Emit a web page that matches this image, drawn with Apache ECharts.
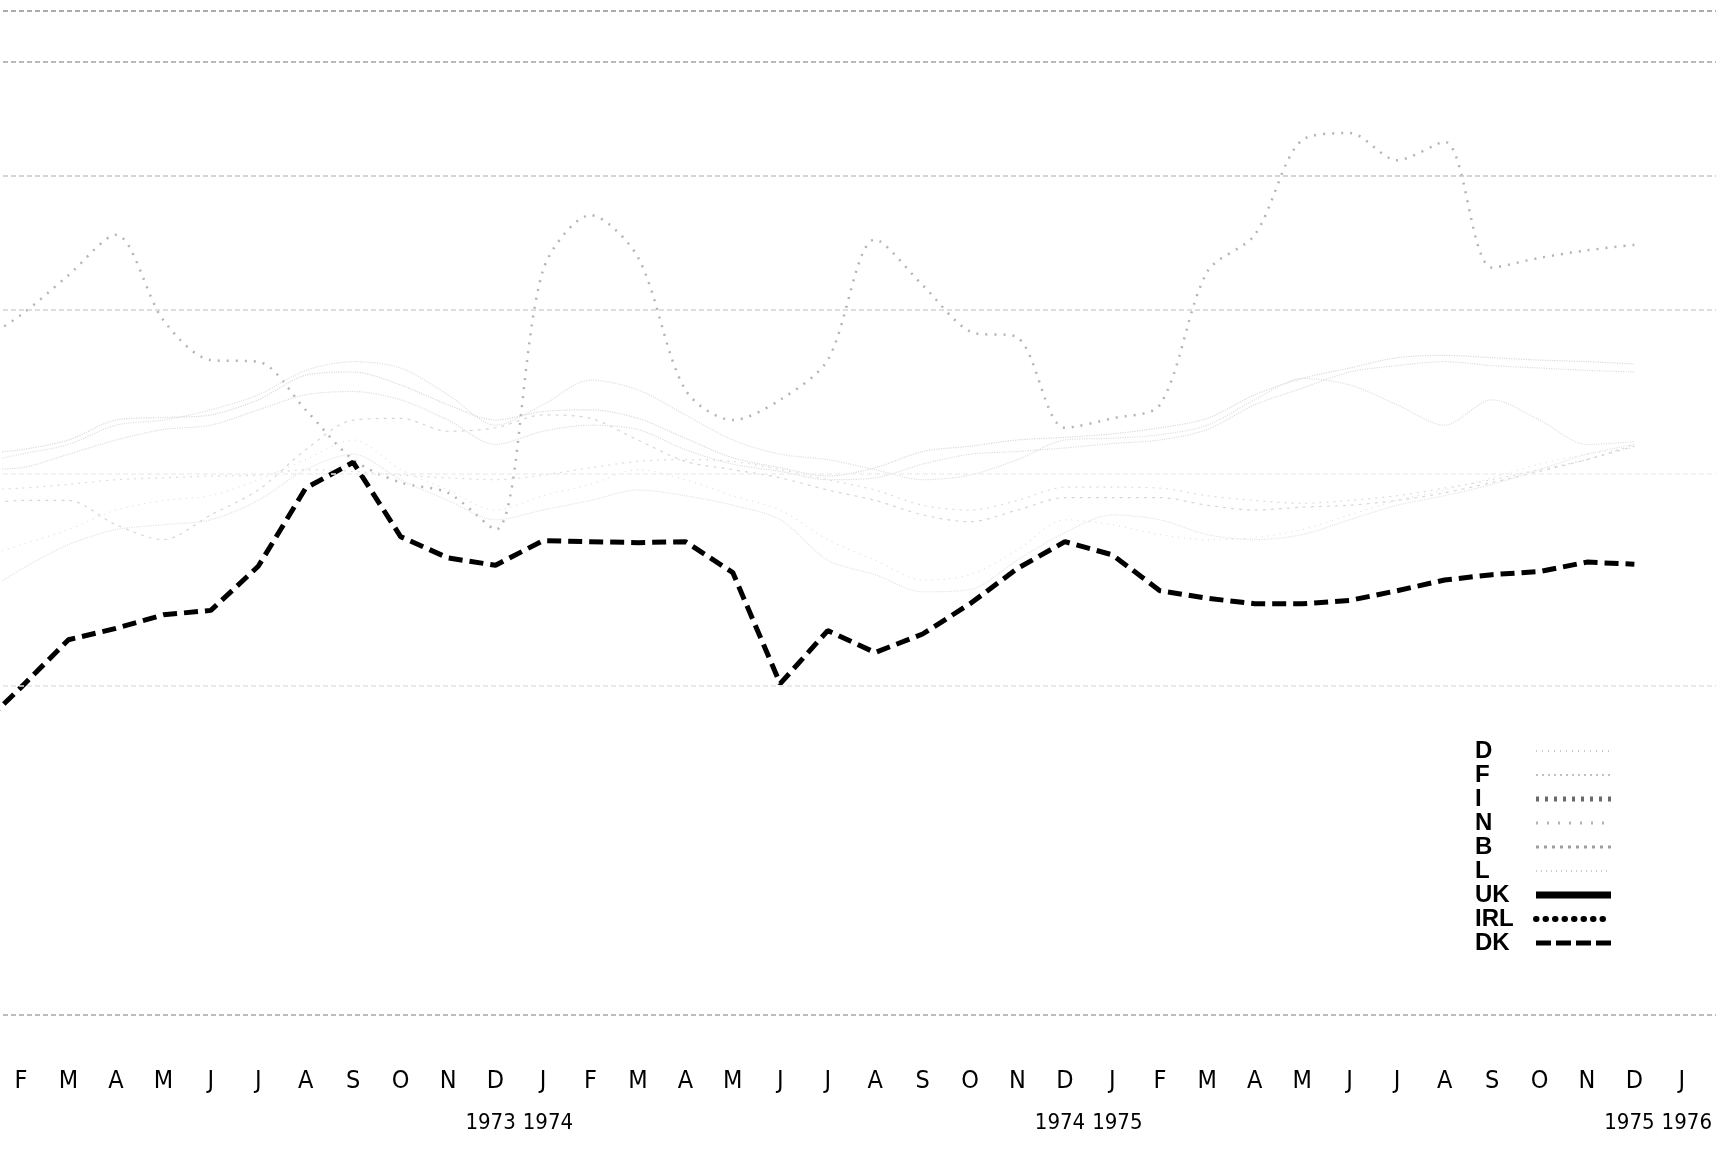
<!DOCTYPE html>
<html>
<head>
<meta charset="utf-8">
<title>DK</title>
<script src="https://cdn.jsdelivr.net/npm/echarts@6/dist/echarts.min.js"></script>
<style>
  html, body { margin: 0; padding: 0; background: #fff; }
  #chart { width: 1721px; height: 1154px; }
</style>
</head>
<body>
<div id="chart"></div>
<script>
// months from Jan 1973 (index 0) to Jan 1976 (index 36)
const months = ['J', 'F', 'M', 'A', 'M', 'J', 'J', 'A', 'S', 'O', 'N', 'D',
  'J', 'F', 'M', 'A', 'M', 'J', 'J', 'A', 'S', 'O', 'N', 'D',
  'J', 'F', 'M', 'A', 'M', 'J', 'J', 'A', 'S', 'O', 'N', 'D', 'J'];
// year pairs sit between December and January
const yearPairs = [['1973', '1974'], ['1974', '1975'], ['1975', '1976']];
const yearTicks = [11.5, 23.5, 35.5];

// log scale, values (Jan 1973 .. Dec 1975)
const dD = [8.22, 8.27, 8.38, 8.61, 8.64, 8.67, 8.85, 9.15, 9.19, 9.03, 8.79, 8.61,
  8.71, 8.73, 8.63, 8.40, 8.18, 8.07, 7.98, 8.07, 8.25, 8.31, 8.38, 8.41,
  8.45, 8.52, 8.63, 8.91, 9.11, 9.24, 9.37, 9.40, 9.37, 9.34, 9.32, 9.29];
const dF = [8.05, 8.07, 8.22, 8.38, 8.50, 8.55, 8.73, 8.91, 8.95, 8.85, 8.61, 8.33,
  8.48, 8.55, 8.50, 8.27, 8.11, 8.03, 7.94, 7.96, 8.11, 8.22, 8.25, 8.29,
  8.34, 8.38, 8.50, 8.79, 8.99, 9.19, 9.27, 9.32, 9.27, 9.24, 9.21, 9.19];
const dI = [9.53, 9.93, 10.48, 11.07, 9.86, 9.34, 9.32, 8.73, 8.16, 7.91, 7.80, 7.42,
  10.55, 11.37, 10.74, 8.97, 8.61, 8.85, 9.34, 11.00, 10.34, 9.71, 9.63, 8.52,
  8.63, 8.79, 10.53, 11.07, 12.59, 12.71, 12.25, 12.56, 10.59, 10.73, 10.84, 10.92];
const dN = [7.83, 7.85, 7.89, 7.94, 7.96, 7.98, 7.99, 8.05, 8.03, 7.99, 7.96, 7.94,
  7.99, 8.07, 8.14, 8.16, 8.14, 8.05, 7.94, 7.83, 7.67, 7.62, 7.72, 7.86,
  7.86, 7.85, 7.77, 7.72, 7.69, 7.72, 7.77, 7.85, 7.94, 8.05, 8.16, 8.33];
const dB = [7.67, 7.72, 7.72, 7.47, 7.32, 7.57, 7.83, 8.27, 8.61, 8.63, 8.48, 8.52,
  8.67, 8.63, 8.38, 8.14, 8.05, 7.96, 7.83, 7.72, 7.57, 7.50, 7.62, 7.75,
  7.75, 7.75, 7.67, 7.62, 7.65, 7.67, 7.72, 7.80, 7.91, 8.03, 8.16, 8.31];
const dL = [8.11, 8.22, 8.33, 8.55, 8.61, 8.73, 8.91, 9.21, 9.32, 9.24, 8.91, 8.55,
  8.79, 9.09, 8.97, 8.67, 8.38, 8.22, 8.16, 8.05, 7.94, 7.99, 8.16, 8.38,
  8.40, 8.44, 8.55, 8.85, 9.11, 9.03, 8.79, 8.55, 8.85, 8.61, 8.33, 8.36];
const dUK = [6.75, 7.03, 7.27, 7.42, 7.47, 7.52, 7.72, 8.05, 8.22, 7.94, 7.72, 7.52,
  7.62, 7.72, 7.83, 7.77, 7.67, 7.52, 7.12, 6.98, 6.82, 6.84, 7.12, 7.39,
  7.57, 7.52, 7.37, 7.32, 7.37, 7.52, 7.67, 7.77, 7.89, 8.05, 8.22, 8.33];
const dIRL = [7.12, 7.27, 7.42, 7.62, 7.72, 7.77, 7.94, 8.16, 8.38, 8.05, 7.83, 7.62,
  7.77, 7.89, 8.05, 7.94, 7.77, 7.62, 7.32, 7.12, 6.93, 6.98, 7.22, 7.52,
  7.47, 7.37, 7.32, 7.34, 7.42, 7.57, 7.72, 7.83, 7.96, 8.11, 8.22, 8.29];
const dDK = [5.63, 5.99, 6.39, 6.49, 6.61, 6.65, 7.06, 7.85, 8.13, 7.35, 7.14, 7.07,
  7.31, 7.30, 7.29, 7.30, 7.00, 6.02, 6.47, 6.28, 6.44, 6.71, 7.04, 7.30,
  7.17, 6.83, 6.76, 6.71, 6.71, 6.74, 6.83, 6.93, 6.98, 7.01, 7.10, 7.08];

// horizontal reference lines (axis units)
const gridValues = [15, 14, 12, 10, 8, 6, 3.84];
const gridColors = ['#8e8e8e', '#a2a2a2', '#c6c6c6', '#d4d4d4', '#efefef', '#e2e2e2', '#a8a8a8'];

const labelTicks = months.map((m, i) => i).slice(1);
const pairs = arr => arr.map((v, i) => [i, v]);
const xMin = 0.6207;
const xMax = 36.72;
const narrow = "'Liberation Sans Narrow', 'DejaVu Sans Condensed', sans-serif";

const chart = echarts.init(document.getElementById('chart'));

const faint = (name, data, color, width, type) => ({
  name: name,
  type: 'line',
  data: pairs(data),
  symbol: 'none',
  smooth: 0.3,
  silent: true,
  lineStyle: { color: color, width: width, type: type }
});

const series = [
  faint('D', dD, '#dadada', 1.2, 'dotted'),
  faint('F', dF, '#dedede', 1.2, 'dotted'),
  faint('I', dI, '#b4b4b4', 2.5, [2, 7]),
  faint('N', dN, '#dcdcdc', 1.2, [2, 5]),
  faint('B', dB, '#d6d6d6', 1.2, [3, 5]),
  faint('L', dL, '#e0e0e0', 1.2, 'dotted'),
  faint('UK', dUK, '#e4e4e4', 1.2, 'dotted'),
  faint('IRL', dIRL, '#dedede', 1.2, [1, 5]),
  {
    name: 'DK',
    type: 'line',
    data: pairs(dDK),
    symbol: 'none',
    silent: true,
    lineStyle: { color: '#000', width: 5, type: [14, 7] },
    markLine: {
      silent: true,
      symbol: ['none', 'none'],
      label: { show: false },
      data: gridValues.map((v, i) => ({
        yAxis: v,
        lineStyle: { color: gridColors[i], width: 1.5, type: [5, 3] }
      }))
    }
  }
];

const option = {
  animation: false,
  backgroundColor: '#fff',
  grid: { left: 3, right: 5, top: 11, bottom: 139 },
  xAxis: [
    {
      type: 'value',
      min: xMin,
      max: xMax,
      axisLine: { show: false },
      axisTick: { show: false },
      splitLine: { show: false },
      axisLabel: {
        customValues: labelTicks,
        showMinLabel: true,
        showMaxLabel: true,
        margin: 54,
        formatter: v => months[v],
        fontFamily: narrow,
        fontSize: 25,
        color: '#000'
      }
    },
    {
      type: 'value',
      position: 'bottom',
      min: xMin,
      max: xMax,
      axisLine: { show: false },
      axisTick: { show: false },
      splitLine: { show: false },
      axisLabel: {
        customValues: yearTicks,
        showMinLabel: true,
        showMaxLabel: true,
        margin: 97,
        formatter: v => {
          const p = yearPairs[yearTicks.indexOf(v)];
          return p ? '{a|' + p[0] + '}{b|' + p[1] + '}' : '';
        },
        rich: {
          a: { fontFamily: narrow, fontSize: 22, color: '#000', padding: [0, 7, 0, 0] },
          b: { fontFamily: narrow, fontSize: 22, color: '#000' }
        }
      }
    }
  ],
  yAxis: {
    type: 'log',
    logBase: 10,
    min: 3.84,
    max: 15,
    show: false
  },
  legend: {
    orient: 'vertical',
    left: 1470,
    top: 734,
    align: 'right',
    itemWidth: 75,
    itemHeight: 14,
    itemGap: 0,
    selectedMode: false,
    itemStyle: { opacity: 0, borderWidth: 0 },
    formatter: n => '{n|' + n + '}',
    textStyle: {
      rich: {
        n: {
          width: 56, align: 'left', fontSize: 24, fontWeight: 'bold',
          lineHeight: 25, fontFamily: "'Liberation Sans', Arial, sans-serif", color: '#000'
        }
      }
    },
    data: [
      { name: 'D', lineStyle: { color: '#c8c8c8', width: 2, type: [1, 5] } },
      { name: 'F', lineStyle: { color: '#c0c0c0', width: 2, type: [2, 4] } },
      { name: 'I', lineStyle: { color: '#6a6a6a', width: 5, type: [3, 6] } },
      { name: 'N', lineStyle: { color: '#b4b4b4', width: 3, type: [2, 9] } },
      { name: 'B', lineStyle: { color: '#9e9e9e', width: 3, type: [3, 5] } },
      { name: 'L', lineStyle: { color: '#cccccc', width: 2, type: [1, 4] } },
      { name: 'UK', lineStyle: { color: '#000', width: 7, type: 'solid' } },
      { name: 'IRL', lineStyle: { color: '#000', width: 6, type: [0.5, 9], cap: 'round' } },
      { name: 'DK', lineStyle: { color: '#000', width: 5, type: [15, 5] } }
    ]
  },
  series: series
};

chart.setOption(option);
window.addEventListener('resize', () => chart.resize());
</script>
</body>
</html>
